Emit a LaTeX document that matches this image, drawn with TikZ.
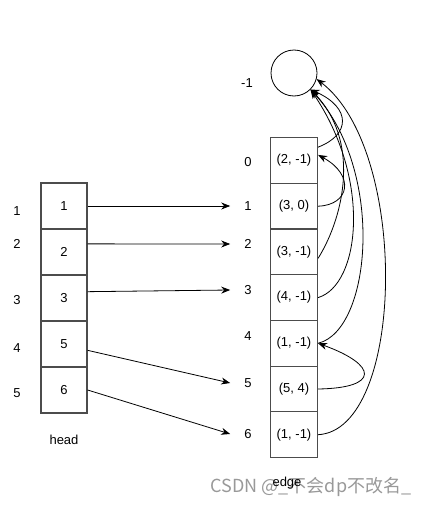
\documentclass[tikz,border=0pt]{standalone}
\usepackage{fontspec}
\setmainfont{Liberation Sans}
\newfontfamily\cjk{Noto Sans CJK SC}
\usetikzlibrary{arrows.meta}
\begin{document}
\begin{tikzpicture}[x=1pt,y=-1pt,
  font=\fontsize{13}{15}\selectfont,
  cell/.style={draw=black!70,line width=1.2pt,minimum width=46pt,minimum height=46pt,inner sep=0pt},
  ecell/.style={cell,minimum width=47pt,minimum height=45.7pt},
  idx/.style={inner xsep=14pt,inner ysep=3pt},
  arr/.style={-{Stealth[length=9pt,width=7pt]},line width=0.8pt}]
\useasboundingbox (0,0) rectangle (433,506);

% watermark
\node[text=black!40,font=\cjk\fontsize{18}{20}\selectfont] (wm) at (311,487) {CSDN @\_不会dp不改名\_};

% head array
\foreach \v [count=\i] in {1,2,3,5,6}
  \node[cell] (h\i) at (64,160+46*\i) {\v};
\node (headlbl) at (64,440) {head};

\node (l1) at (17,211) {1};
\node (l2) at (17,244) {2};
\node (l3) at (17,300) {3};
\node (l4) at (17,348) {4};
\node (l5) at (17,393) {5};

% edge array
\foreach \v [count=\i from 0] in {{(2, -1)},{(3, 0)},{(3, -1)},{(4, -1)},{(1, -1)},{(5, 4)},{(1, -1)}}
  \node[ecell] (e\i) at (294,160.5+45.7*\i) {\v};
\node (edgelbl) at (287,483) {edge};

\node[draw,circle,minimum size=46pt,line width=0.8pt] (c) at (294,73) {};
\node (m) at (247,83) {-1};

\node[idx] (n0) at (248,162) {0};
\node[idx] (n1) at (248,206) {1};
\node[idx] (n2) at (248,244) {2};
\node[idx] (n3) at (248,290) {3};
\node[idx] (n4) at (248,336) {4};
\node[idx] (n5) at (248,383) {5};
\node[idx] (n6) at (248,434) {6};

% head -> edge
\draw[arr] (h1.east) -- (n1.west);
\draw[arr] (h2.19) -- (n2.west);
\draw[arr] (h3.15) -- (n3.west);
\draw[arr] (h4.-15) -- (n5.west);
\draw[arr] (h5.east) -- (n6.west);

% next pointers
\draw[arr] (e0.29) .. controls (350,135) and (352,108) .. (c.-45);
\draw[arr] (e1.east) .. controls (350,205) and (355,175) .. (e0.13);
\draw[arr] (e2.-15) .. controls (345,215) and (360,140) .. (c.-45);
\draw[arr] (e3.east) .. controls (360,285) and (372,180) .. (c.-45);
\draw[arr] (e4.east) .. controls (372,330) and (385,170) .. (c.-45);
\draw[arr] (e5.east) .. controls (380,388) and (378,365) .. (e4.east);
\draw[arr] (e6.east) .. controls (405,430) and (410,150) .. (c.-15);
\end{tikzpicture}
\end{document}
